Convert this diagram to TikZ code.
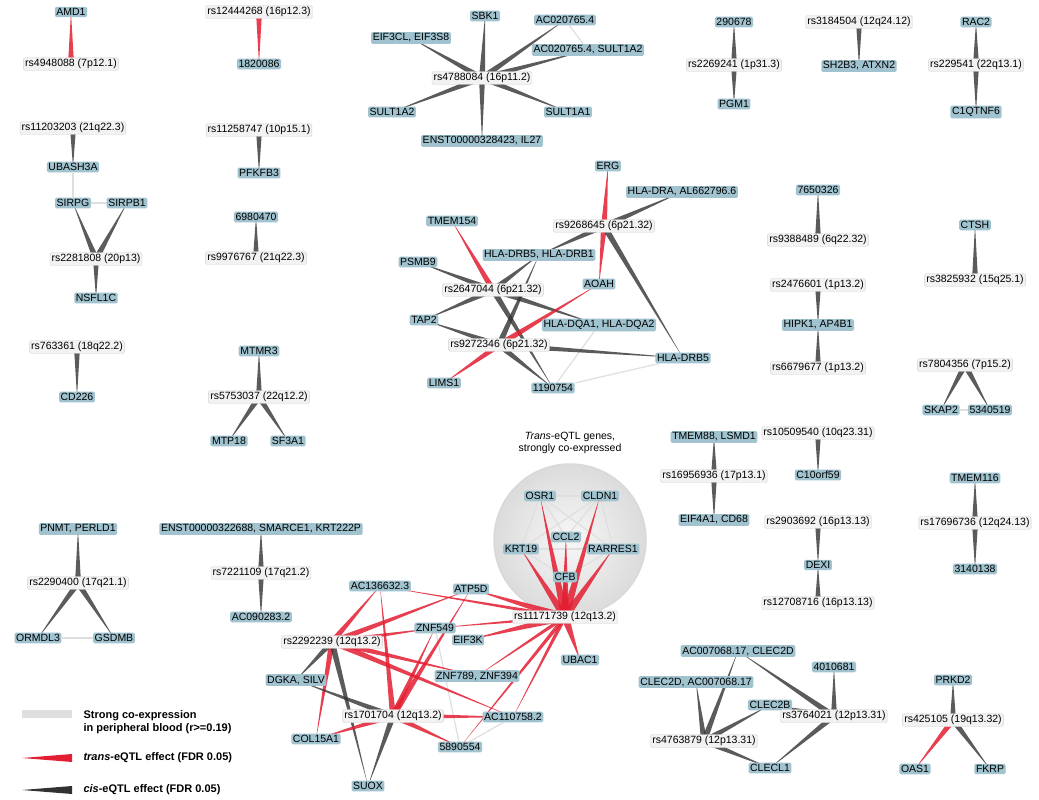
\documentclass[tikz,border=0pt]{standalone}
\usepackage{fontspec}
\setmainfont{Liberation Sans}
\usetikzlibrary{calc,backgrounds}
\definecolor{gb}{RGB}{160,195,207}
\definecolor{tr}{RGB}{228,30,50}
\definecolor{ci}{RGB}{50,50,50}
\newcommand\wg[4][3]{\fill[#2] ($(#3)!#1pt!90:(#4)$) -- ($(#3)!#1pt!-90:(#4)$) -- (#4.center) -- cycle;}
\newcommand\cx[2]{\draw[gray!25,line width=1.2pt] (#1)--(#2);}
\begin{document}
\begin{tikzpicture}[x=1pt,y=-1pt,
 g/.style={fill=gb,rounded corners=1.5pt,inner sep=1.6pt,font=\fontsize{10.5}{11}\selectfont},
 s/.style={fill=gray!10,draw=gray!35,rounded corners=1.5pt,inner sep=1.6pt,font=\fontsize{10.5}{11}\selectfont},
 R/.style={tr,opacity=.85}, K/.style={ci,opacity=.8}]
\useasboundingbox (0,0) rectangle (1039,800);
\node[align=center,font=\fontsize{10.5}{12.5}\selectfont] (ct) at (570,443) {\textit{Trans}-eQTL genes,\\strongly co-expressed};
% nodes
\node[g] (amd) at (71,12) {AMD1};
\node[s] (s1) at (71,64) {rs4948088 (7p12.1)};
\node[s] (s2) at (259,12) {rs12444268 (16p12.3)};
\node[g] (g1820) at (259,64) {1820086};
\node[s] (s3) at (73,128) {rs11203203 (21q22.3)};
\node[g] (ubash) at (73,167) {UBASH3A};
\node[g] (sirpg) at (73,203) {SIRPG};
\node[g] (sirpb) at (127,203) {SIRPB1};
\node[s] (s4) at (96,259) {rs2281808 (20p13)};
\node[g] (nsfl) at (96,298) {NSFL1C};
\node[s] (s5) at (259,130) {rs11258747 (10p15.1)};
\node[g] (pfk) at (259,173) {PFKFB3};
\node[g] (g698) at (256,217) {6980470};
\node[s] (s6) at (256,258) {rs9976767 (21q22.3)};
\node[g] (sbk) at (485,16) {SBK1};
\node[g] (ac02) at (565,20) {AC020765.4};
\node[g] (eif3cl) at (411,38) {EIF3CL, EIF3S8};
\node[g] (ac02s) at (588,50) {AC020765.4, SULT1A2};
\node[s] (s7) at (482,78) {rs4788084 (16p11.2)};
\node[g] (sult2) at (392,112) {SULT1A2};
\node[g] (sult1) at (568,112) {SULT1A1};
\node[g] (enst1) at (482,141) {ENST00000328423, IL27};
\node[g] (g2906) at (734,22) {290678};
\node[s] (s8) at (734,65) {rs2269241 (1p31.3)};
\node[g] (pgm) at (734,104) {PGM1};
\node[s] (s9) at (859,22) {rs3184504 (12q24.12)};
\node[g] (sh2b) at (859,66) {SH2B3, ATXN2};
\node[g] (rac) at (976,22) {RAC2};
\node[s] (s10) at (976,65) {rs229541 (22q13.1)};
\node[g] (c1q) at (976,112) {C1QTNF6};
\node[g] (erg) at (608,166) {ERG};
\node[g] (hladra) at (682,192) {HLA-DRA, AL662796.6};
\node[g] (tmem154) at (452,221) {TMEM154};
\node[s] (s11) at (604,226) {rs9268645 (6p21.32)};
\node[g] (drb51) at (539,255) {HLA-DRB5, HLA-DRB1};
\node[g] (psmb) at (418,262) {PSMB9};
\node[s] (s12) at (493,290) {rs2647044 (6p21.32)};
\node[g] (aoah) at (599,284) {AOAH};
\node[g] (tap2) at (424,320) {TAP2};
\node[g] (dqa) at (599,325) {HLA-DQA1, HLA-DQA2};
\node[s] (s13) at (499,345) {rs9272346 (6p21.32)};
\node[g] (drb5) at (683,358) {HLA-DRB5};
\node[g] (lims) at (444,383) {LIMS1};
\node[g] (g1190) at (553,388) {1190754};
\node[g] (g7650) at (818,190) {7650326};
\node[s] (s14) at (818,240) {rs9388489 (6q22.32)};
\node[g] (ctsh) at (975,225) {CTSH};
\node[s] (s15) at (975,280) {rs3825932 (15q25.1)};
\node[s] (s16) at (818,285) {rs2476601 (1p13.2)};
\node[g] (hipk) at (818,325) {HIPK1, AP4B1};
\node[s] (s17) at (818,368) {rs6679677 (1p13.2)};
\node[s] (s18) at (965,365) {rs7804356 (7p15.2)};
\node[g] (skap) at (941,410) {SKAP2};
\node[g] (g534) at (990,410) {5340519};
\node[s] (s19) at (77,347) {rs763361 (18q22.2)};
\node[g] (cd226) at (77,397) {CD226};
\node[g] (mtmr) at (259,351) {MTMR3};
\node[s] (s20) at (259,397) {rs5753037 (22q12.2)};
\node[g] (mtp) at (229,441) {MTP18};
\node[g] (sf3) at (288,441) {SF3A1};
\node[g] (osr) at (540,496) {OSR1};
\node[g] (cldn) at (600,496) {CLDN1};
\node[g] (ccl2) at (566,537) {CCL2};
\node[g] (krt) at (521,549) {KRT19};
\node[g] (rarr) at (613,549) {RARRES1};
\node[g] (cfb) at (565,577) {CFB};
\node[s] (s21) at (565,617) {rs11171739 (12q13.2)};
\node[g] (tmem88) at (714,437) {TMEM88, LSMD1};
\node[s] (s22) at (714,476) {rs16956936 (17p13.1)};
\node[g] (eif4) at (714,520) {EIF4A1, CD68};
\node[s] (s23) at (818,433) {rs10509540 (10q23.31)};
\node[g] (c10) at (818,475) {C10orf59};
\node[s] (s24) at (818,522) {rs2903692 (16p13.13)};
\node[g] (dexi) at (818,565) {DEXI};
\node[s] (s25) at (818,603) {rs12708716 (16p13.13)};
\node[g] (tmem116) at (975,478) {TMEM116};
\node[s] (s26) at (975,523) {rs17696736 (12q24.13)};
\node[g] (g3140) at (975,569) {3140138};
\node[g] (pnmt) at (78,529) {PNMT, PERLD1};
\node[s] (s27) at (78,583) {rs2290400 (17q21.1)};
\node[g] (orm) at (38,638) {ORMDL3};
\node[g] (gsd) at (114,638) {GSDMB};
\node[g] (enst2) at (261,529) {ENST00000322688, SMARCE1, KRT222P};
\node[s] (s28) at (261,573) {rs7221109 (17q21.2)};
\node[g] (ac09) at (261,617) {AC090283.2};
\node[g] (ac13) at (380,586) {AC136632.3};
\node[g] (atp) at (471,589) {ATP5D};
\node[g] (znf549) at (435,628) {ZNF549};
\node[g] (eif3k) at (468,640) {EIF3K};
\node[s] (s29) at (332,642) {rs2292239 (12q13.2)};
\node[g] (ubac) at (580,660) {UBAC1};
\node[g] (dgka) at (296,680) {DGKA, SILV};
\node[g] (znf789) at (477,676) {ZNF789, ZNF394};
\node[s] (s30) at (393,716) {rs1701704 (12q13.2)};
\node[g] (ac11) at (513,717) {AC110758.2};
\node[g] (col) at (316,739) {COL15A1};
\node[g] (g589) at (460,747) {5890554};
\node[g] (suox) at (368,786) {SUOX};
\node[g] (clec2d) at (738,651) {AC007068.17, CLEC2D};
\node[g] (g4010) at (834,667) {4010681};
\node[g] (clec2d2) at (696,682) {CLEC2D, AC007068.17};
\node[g] (clec2b) at (770,705) {CLEC2B};
\node[s] (s31) at (834,716) {rs3764021 (12p13.31)};
\node[s] (s32) at (704,741) {rs4763879 (12p13.31)};
\node[g] (clecl) at (770,768) {CLECL1};
\node[g] (prkd) at (953,680) {PRKD2};
\node[s] (s33) at (953,720) {rs425105 (19q13.32)};
\node[g] (oas) at (915,769) {OAS1};
\node[g] (fkrp) at (990,769) {FKRP};
% legend
\coordinate (l1) at (22,714); \coordinate (l1b) at (72,714);
\coordinate (l2) at (22,758); \coordinate (l2b) at (72,758);
\coordinate (l3) at (22,790); \coordinate (l3b) at (72,790);
\draw[gray!25,line width=8pt] (l1)--(l1b);
\node[anchor=west,align=left,font=\bfseries\fontsize{11}{13}\selectfont] (lt1) at (80,722) {Strong co-expression\\in peripheral blood (r>=0.19)};
\node[anchor=west,font=\bfseries\fontsize{11}{12}\selectfont] (lt2) at (80,758) {\textit{trans}-eQTL effect (FDR 0.05)};
\node[anchor=west,font=\bfseries\fontsize{11}{12}\selectfont] (lt3) at (80,790) {\textit{cis}-eQTL effect (FDR 0.05)};
\begin{pgfonlayer}{background}
\fill[white] (0,0) rectangle (1039,800);
\shade[inner color=gray!6,outer color=gray!28] (570,540) circle (76);
\draw[gray!30,line width=1.5pt] (570,540) circle (76);
\fill[tr] ($(l2b)+(0,-4)$) -- ($(l2b)+(0,4)$) -- (l2) -- cycle;
\fill[ci] ($(l3b)+(0,-4)$) -- ($(l3b)+(0,4)$) -- (l3) -- cycle;
\cx{ubash}{sirpg}\cx{sirpg}{sirpb}\cx{ac02}{ac02s}\cx{skap}{g534}\cx{orm}{gsd}
\cx{g1190}{drb5}\cx{g1190}{dqa}\cx{znf549}{g589}\cx{ac11}{g589}
\cx{osr}{cldn}\cx{osr}{krt}\cx{cldn}{rarr}\cx{krt}{cfb}\cx{rarr}{cfb}\cx{osr}{ccl2}\cx{cldn}{ccl2}\cx{krt}{rarr}\cx{osr}{rarr}\cx{cldn}{krt}\cx{ccl2}{cfb}
\wg{R}{s1}{amd}\wg{R}{s2}{g1820}
\wg{K}{s3}{ubash}\wg{K}{s4}{sirpg}\wg{K}{s4}{sirpb}\wg{K}{s4}{nsfl}
\wg{K}{s5}{pfk}\wg{K}{s6}{g698}
\foreach \t in {sbk,ac02,eif3cl,ac02s,sult2,sult1,enst1}{\wg{K}{s7}{\t}}
\wg{K}{s8}{g2906}\wg{K}{s8}{pgm}\wg{K}{s9}{sh2b}\wg{K}{s10}{rac}\wg{K}{s10}{c1q}
\wg{R}{s11}{erg}\wg{K}{s11}{hladra}\wg{R}{s11}{aoah}\wg{K}{s11}{drb5}\wg{K}{s11}{drb51}
\wg{R}{s12}{tmem154}\wg{K}{s12}{psmb}\wg{K}{s12}{tap2}\wg{K}{s12}{drb51}\wg{K}{s12}{dqa}\wg{K}{s12}{g1190}
\wg{R}{s13}{aoah}\wg{R}{s13}{lims}\wg{K}{s13}{drb51}\wg{K}{s13}{tap2}\wg{K}{s13}{drb5}\wg{K}{s13}{g1190}
\wg{K}{s14}{g7650}\wg{K}{s15}{ctsh}\wg{K}{s16}{hipk}\wg{K}{s17}{hipk}\wg{K}{s18}{skap}\wg{K}{s18}{g534}
\wg{K}{s19}{cd226}\wg{K}{s20}{mtmr}\wg{K}{s20}{mtp}\wg{K}{s20}{sf3}
\foreach \t in {osr,cldn,ccl2,krt,rarr,cfb,ubac,eif3k,atp}{\wg[4]{R}{s21}{\t}}
\foreach \t in {ac13,znf549,znf789,ac11,g589}{\wg[2]{R}{s21}{\t}}
\wg{K}{s22}{tmem88}\wg{K}{s22}{eif4}\wg{K}{s23}{c10}\wg{K}{s24}{dexi}\wg{K}{s25}{dexi}
\wg{K}{s26}{tmem116}\wg{K}{s26}{g3140}
\wg{K}{s27}{pnmt}\wg{K}{s27}{orm}\wg{K}{s27}{gsd}\wg{K}{s28}{enst2}\wg{K}{s28}{ac09}
\foreach \t in {ac13,atp,znf549,znf789,ac11,col}{\wg{R}{s29}{\t}}
\wg{K}{s29}{dgka}\wg{K}{s29}{suox}
\foreach \t in {ac13,atp,znf549,ac11,g589,col}{\wg{R}{s30}{\t}}
\wg{K}{s30}{dgka}\wg{K}{s30}{suox}
\wg{K}{s31}{g4010}\wg{K}{s31}{clec2b}\wg{K}{s31}{clecl}\wg{K}{s31}{clec2d}
\wg{K}{s32}{clec2d}\wg{K}{s32}{clec2d2}\wg{K}{s32}{clec2b}\wg{K}{s32}{clecl}
\wg{K}{s33}{prkd}\wg{R}{s33}{oas}\wg{K}{s33}{fkrp}
\end{pgfonlayer}
\end{tikzpicture}
\end{document}
